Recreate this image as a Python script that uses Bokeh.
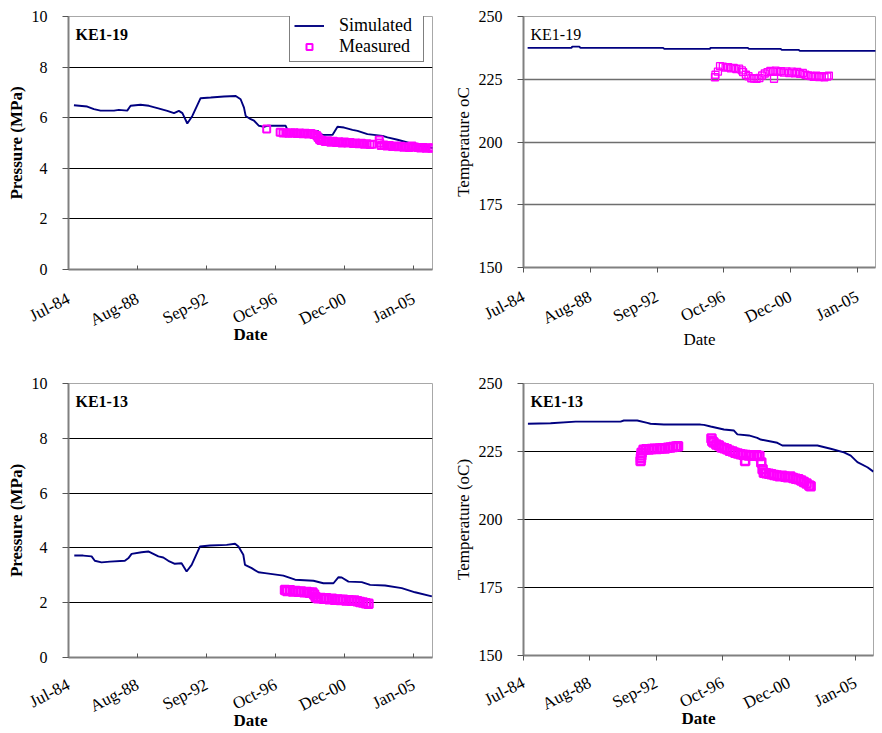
import pandas as pd
from bokeh.plotting import figure
from bokeh.models import (Range1d, FixedTicker, DatetimeTickFormatter, Label,
                          Legend, LegendItem, ColumnDataSource)
from bokeh.layouts import gridplot
from bokeh.embed import file_html
from bokeh.resources import INLINE

FONT = "Liberation Serif"

# ---------------- data (decimal years, values) ----------------
# KE1-19 pressure (MPa)
sim19_p_year = [1984.82, 1985.61, 1986.01, 1986.40, 1987.20, 1987.49, 1987.99, 1988.19, 1988.78,
                1989.28, 1989.78, 1990.37, 1990.77, 1991.06, 1991.27, 1991.56, 1991.86, 1992.35,
                1992.95, 1993.74, 1994.44, 1994.73, 1994.93, 1995.03, 1995.33, 1995.53, 1995.82,
                1996.12, 1996.32, 1997.41, 1997.51, 1998.50, 1999.30, 1999.60, 2000.19, 2000.49,
                2000.88, 2001.38, 2001.68, 2002.27, 2003.17, 2003.46, 2004.06, 2004.65, 2005.05,
                2006.16]
sim19_p = [6.49, 6.44, 6.34, 6.28, 6.28, 6.31, 6.28, 6.47, 6.51,
           6.47, 6.38, 6.27, 6.18, 6.27, 6.18, 5.77, 6.07, 6.77,
           6.80, 6.84, 6.86, 6.73, 6.40, 6.07, 5.94, 5.88, 5.68,
           5.64, 5.68, 5.68, 5.52, 5.51, 5.48, 5.32, 5.32, 5.64,
           5.61, 5.52, 5.48, 5.35, 5.28, 5.22, 5.13, 5.02, 4.94,
           4.80]
meas19_p_year = [1996.28,
                 1997.08, 1997.25, 1997.42, 1997.58, 1997.75, 1997.92,
                 1998.08, 1998.25, 1998.42, 1998.58, 1998.75, 1998.92,
                 1999.08, 1999.25, 1999.33, 1999.42, 1999.50,
                 1999.58, 1999.75, 1999.92,
                 2000.08, 2000.25, 2000.42, 2000.58, 2000.75, 2000.92,
                 2001.08, 2001.25, 2001.42, 2001.58, 2001.75, 2001.92,
                 2002.08, 2002.25, 2002.42, 2002.55,
                 2002.97, 2003.00, 2003.08, 2003.25, 2003.42, 2003.58, 2003.75, 2003.92,
                 2004.08, 2004.25, 2004.42, 2004.58, 2004.75, 2004.92,
                 2005.08, 2005.25, 2005.42, 2005.58, 2005.75, 2005.92,
                 2006.08, 2006.17]
meas19_p = [5.55,
            5.42, 5.40, 5.41, 5.39, 5.40, 5.41,
            5.38, 5.40, 5.37, 5.39, 5.36, 5.38,
            5.34, 5.30, 5.22, 5.14, 5.10,
            5.10, 5.06, 5.09,
            5.03, 5.07, 5.02, 5.05, 5.00, 5.04,
            5.00, 5.02, 4.98, 5.00, 4.97, 4.99,
            4.95, 4.97, 4.94, 4.95,
            5.12, 5.00, 4.90, 4.92, 4.88, 4.90, 4.86, 4.88,
            4.85, 4.87, 4.83, 4.85, 4.82, 4.88,
            4.84, 4.82, 4.80, 4.82, 4.79, 4.81,
            4.79, 4.80]

# KE1-19 temperature (oC)
sim19_t_year = [1984.75, 1987.44, 1987.50, 1987.93, 1988.00, 1993.08, 1993.15, 1995.96,
                1996.00, 1998.29, 1998.35, 2000.31, 2000.37, 2001.42, 2001.48, 2006.16]
sim19_t = [237.5, 237.5, 238.0, 238.0, 237.5, 237.5, 237.1, 237.1,
           237.5, 237.5, 237.1, 237.1, 236.7, 236.7, 236.3, 236.3]
meas19_t_year = [1996.27, 1996.30, 1996.45, 1996.58, 1996.75, 1996.92,
                 1997.08, 1997.25, 1997.42, 1997.58, 1997.75, 1997.92,
                 1998.00, 1998.17, 1998.33, 1998.50, 1998.67, 1998.83,
                 1999.00, 1999.17, 1999.33, 1999.50, 1999.67, 1999.83, 1999.90,
                 2000.00, 2000.17, 2000.33, 2000.50, 2000.67, 2000.83,
                 2001.00, 2001.17, 2001.33, 2001.50, 2001.67, 2001.83,
                 2002.00, 2002.17, 2002.33, 2002.50, 2002.67, 2002.83,
                 2003.00, 2003.17, 2003.27]
meas19_t = [225.8, 226.8, 228.0, 230.2, 230.0, 229.6,
            229.8, 229.3, 229.5, 229.0, 229.2, 228.5,
            227.8, 226.8, 226.2, 225.4, 225.3, 225.2,
            225.5, 226.5, 227.3, 227.8, 228.3, 228.0, 225.2,
            228.4, 227.9, 228.2, 227.6, 228.1, 227.5,
            228.0, 227.4, 227.9, 227.2, 227.5, 226.8,
            226.5, 226.3, 226.0, 226.4, 225.9, 226.2,
            225.8, 226.1, 226.4]

# KE1-13 pressure (MPa)
sim13_p_year = [1984.84, 1985.37, 1985.87, 1986.06, 1986.46, 1986.96, 1987.85, 1988.05, 1988.25,
                1988.84, 1989.24, 1989.54, 1989.84, 1990.13, 1990.43, 1990.82, 1991.22, 1991.52,
                1991.82, 1992.31, 1992.91, 1993.90, 1994.40, 1994.60, 1994.89, 1994.99, 1995.39,
                1995.79, 1996.18, 1997.27, 1997.97, 1999.06, 1999.65, 2000.25, 2000.55, 2000.74,
                2001.14, 2001.93, 2002.43, 2003.32, 2004.31, 2005.10, 2006.10]
sim13_p = [3.72, 3.72, 3.69, 3.53, 3.47, 3.50, 3.53, 3.62, 3.78,
           3.84, 3.87, 3.78, 3.69, 3.65, 3.53, 3.42, 3.44, 3.14,
           3.38, 4.05, 4.09, 4.11, 4.15, 4.05, 3.75, 3.38, 3.26,
           3.11, 3.08, 2.99, 2.84, 2.80, 2.71, 2.71, 2.93, 2.92,
           2.77, 2.75, 2.65, 2.63, 2.53, 2.38, 2.23]
meas13_p_year = [1997.37, 1997.50, 1997.67, 1997.83,
                 1998.00, 1998.17, 1998.33, 1998.50, 1998.67, 1998.83,
                 1999.00, 1999.10, 1999.20, 1999.33, 1999.50, 1999.67, 1999.83,
                 2000.00, 2000.17, 2000.33, 2000.50, 2000.67, 2000.83,
                 2001.00, 2001.17, 2001.33, 2001.50, 2001.67, 2001.83,
                 2002.00, 2002.17, 2002.33]
meas13_p = [2.46, 2.43, 2.45, 2.41,
            2.43, 2.40, 2.41, 2.38, 2.39, 2.36,
            2.37, 2.30, 2.20, 2.16, 2.17, 2.14, 2.16,
            2.13, 2.14, 2.11, 2.12, 2.10, 2.11,
            2.08, 2.09, 2.07, 2.08, 2.05, 2.03,
            2.01, 1.98, 1.96]

# KE1-13 temperature (oC)
sim13_t_year = [1984.77, 1986.17, 1987.72, 1990.50, 1990.70, 1991.53, 1992.15, 1992.35, 1993.18,
                1995.44, 1995.65, 1996.07, 1996.89, 1997.51, 1997.72, 1998.43, 1998.95, 1999.16,
                2000.19, 2000.50, 2002.67, 2003.49, 2004.31, 2004.73, 2005.14, 2005.76, 2006.13]
sim13_t = [235.2, 235.4, 236.0, 236.0, 236.4, 236.4, 235.5, 235.2, 234.9,
           234.9, 234.8, 234.2, 233.1, 232.7, 231.3, 230.9, 230.0, 229.4,
           228.2, 227.2, 227.2, 226.0, 224.7, 223.5, 221.1, 219.2, 217.6]
meas13_t_year = [1991.74, 1991.76, 1991.78, 1991.80, 1991.92,
                 1992.08, 1992.25, 1992.42, 1992.58, 1992.75, 1992.92,
                 1993.08, 1993.25, 1993.42, 1993.58, 1993.75, 1993.92, 1994.05,
                 1996.12, 1996.17, 1996.25, 1996.42, 1996.58, 1996.75, 1996.92,
                 1997.08, 1997.25, 1997.42, 1997.58, 1997.75, 1997.92,
                 1998.08, 1998.20, 1998.25, 1998.42, 1998.58, 1998.75, 1998.92,
                 1999.08, 1999.20, 1999.28, 1999.36, 1999.50, 1999.67, 1999.83,
                 2000.00, 2000.17, 2000.33, 2000.50, 2000.67, 2000.83,
                 2001.00, 2001.17, 2001.33, 2001.50, 2001.67, 2001.83,
                 2002.00, 2002.17, 2002.25]
meas13_t = [221.5, 222.5, 223.5, 224.5, 225.6,
            225.8, 225.7, 225.9, 226.0, 225.9, 226.1,
            226.2, 226.1, 226.4, 226.5, 226.7, 226.8, 226.9,
            229.8, 228.8, 228.3, 227.6, 227.2, 226.5, 226.2,
            225.8, 225.3, 225.0, 224.5, 224.3, 224.0,
            223.8, 221.5, 223.7, 223.5, 223.6, 223.4, 223.6,
            223.3, 221.0, 218.5, 217.2, 217.0, 216.8, 216.6,
            216.4, 216.2, 215.9, 216.1, 215.7, 215.5,
            215.8, 215.3, 215.0, 214.8, 214.3, 213.8,
            213.2, 212.5, 212.2]

pressure_ticks = [0, 2, 4, 6, 8, 10]
temperature_ticks = [150, 175, 200, 225, 250]

# ---------------- helpers ----------------
def to_dates(years):
    out = []
    for y in years:
        yr = int(y)
        a = pd.Timestamp(year=yr, month=1, day=1)
        b = pd.Timestamp(year=yr + 1, month=1, day=1)
        out.append(a + (b - a) * (y - yr))
    return pd.to_datetime(out)


X_START = pd.Timestamp("1984-07-01")
X_END = pd.Timestamp("2006-02-20")
x_ticks = [(X_START + pd.Timedelta(days=1500 * k)).value / 1e6 for k in range(6)]
FMT = "%b-%y"


def make_panel(fw, fh, bl, br, bt, bb, yr, yticks, ylabel, ylabel_bold,
               name, name_bold, xlabel_bold, sim_x, sim_y, meas_x, meas_y,
               tick_in, tick_out, grid_color, grid_width, msize, mwidth,
               xl_standoff, title_standoff, legend=False):
    p = figure(frame_width=fw, frame_height=fh, output_backend="svg", toolbar_location=None,
               x_axis_type="datetime",
               x_range=Range1d(X_START, X_END), y_range=Range1d(yr[0], yr[1]),
               min_border_left=bl, min_border_right=br, min_border_top=bt,
               min_border_bottom=bb)
    p.background_fill_color = "white"
    p.border_fill_color = "white"
    p.outline_line_color = "#a8a8a8"
    p.outline_line_width = 1

    p.xgrid.visible = False
    p.ygrid.ticker = FixedTicker(ticks=yticks[1:-1])
    p.ygrid.grid_line_color = grid_color
    p.ygrid.grid_line_width = grid_width

    xa = p.xaxis[0]
    xa.ticker = FixedTicker(ticks=x_ticks, minor_ticks=[])
    xa.formatter = DatetimeTickFormatter(
        microseconds=FMT, milliseconds=FMT, seconds=FMT, minsec=FMT, minutes=FMT,
        hourmin=FMT, hours=FMT, days=FMT, months=FMT, years=FMT)
    xa.major_label_orientation = 0.47
    xa.major_tick_in = tick_in
    xa.major_tick_out = tick_out
    xa.minor_tick_line_color = None
    xa.major_label_standoff = xl_standoff
    xa.axis_label = "Date"
    xa.axis_label_standoff = title_standoff
    xa.axis_label_text_font_style = "bold" if xlabel_bold else "normal"
    xa.major_label_text_font_size = "17px"

    ya = p.yaxis[0]
    ya.ticker = FixedTicker(ticks=yticks, minor_ticks=[])
    ya.major_tick_in = 0
    ya.major_tick_out = 6
    ya.minor_tick_line_color = None
    ya.major_label_standoff = 15
    ya.axis_label = ylabel
    ya.axis_label_standoff = 3
    ya.axis_label_text_font_style = "bold" if ylabel_bold else "normal"
    ya.major_label_text_font_size = "16px"

    for ax in (xa, ya):
        ax.axis_line_color = "#808080"
        ax.axis_line_width = 2
        ax.major_tick_line_color = "#555555"
        ax.major_tick_line_width = 1
        ax.major_label_text_font = FONT
        ax.major_label_text_color = "black"
        ax.axis_label_text_font = FONT
        ax.axis_label_text_font_size = "17px"
        ax.axis_label_text_color = "black"

    sim_src = ColumnDataSource(dict(x=to_dates(sim_x), y=sim_y))
    meas_src = ColumnDataSource(dict(x=to_dates(meas_x), y=meas_y))
    r_sim = p.line("x", "y", source=sim_src, line_color="#000080", line_width=1.9)
    r_meas = p.scatter("x", "y", source=meas_src, marker="square", size=msize,
                       fill_color=None, line_color="#FF00FF", line_width=mwidth)

    p.add_layout(Label(x=7, y=fh - 9, x_units="screen", y_units="screen",
                       text=name, text_font=FONT, text_font_size="16px",
                       text_font_style="bold" if name_bold else "normal",
                       text_color="black", text_baseline="top", text_align="left"))

    if legend:
        lg = Legend(items=[LegendItem(label="Simulated", renderers=[r_sim]),
                           LegendItem(label="Measured", renderers=[r_meas])],
                    location=(221, 207), margin=0, padding=4, spacing=-5,
                    glyph_width=30, glyph_height=15, label_height=15,
                    label_width=80, label_standoff=15,
                    label_text_font=FONT, label_text_font_size="18px",
                    label_text_color="black",
                    border_line_color="black", border_line_width=1,
                    background_fill_color="white", background_fill_alpha=1)
        p.add_layout(lg)
    return p


p1 = make_panel(364, 253, 68, 9, 14, 93, (0, 10), pressure_ticks, "Pressure (MPa)", True,
                "KE1-19", True, True, sim19_p_year, sim19_p, meas19_p_year, meas19_p,
                4, 0, "black", 1, 7, 2.0, 28, -16, legend=True)
p2 = make_panel(352, 251, 82, 7, 16, 93, (150, 250), temperature_ticks, "Temperature oC", False,
                "KE1-19", False, False, sim19_t_year, sim19_t, meas19_t_year, meas19_t,
                0, 5, "#6e6e6e", 1.5, 7, 1.3, 23, -9)
p3 = make_panel(364, 274, 67, 10, 22, 77, (0, 10), pressure_ticks, "Pressure (MPa)", True,
                "KE1-13", True, True, sim13_p_year, sim13_p, meas13_p_year, meas13_p,
                4, 0, "black", 1, 8, 2.5, 26, -16)
p4 = make_panel(350, 272, 82, 9, 23, 78, (150, 250), temperature_ticks, "Temperature (oC)", False,
                "KE1-13", True, True, sim13_t_year, sim13_t, meas13_t_year, meas13_t,
                0, 5, "black", 1, 8, 2.5, 21, -16)

grid = gridplot([[p1, p2], [p3, p4]], toolbar_location=None)

open("out.html", "w").write(file_html(grid, INLINE))
